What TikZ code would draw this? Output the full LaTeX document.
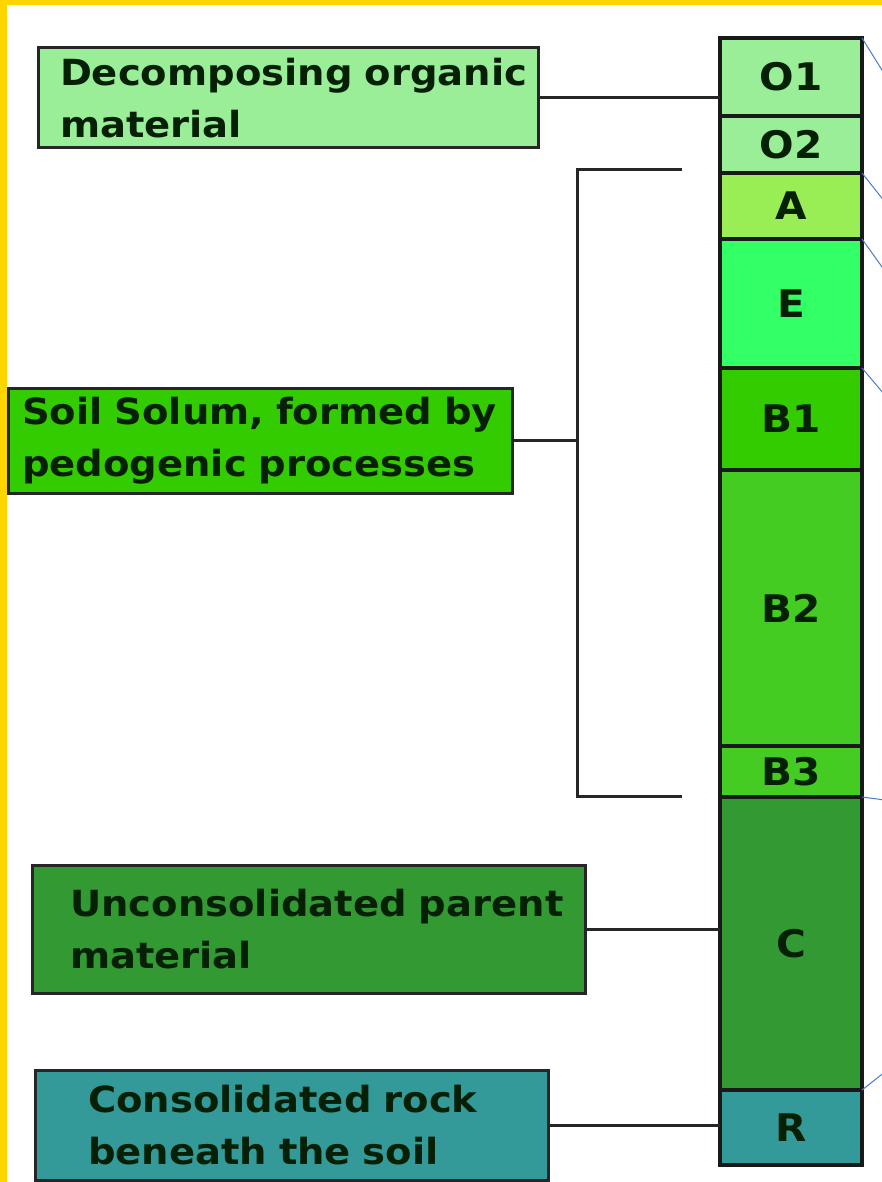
\documentclass[tikz,border=0pt]{standalone}
\usepackage{fontspec}
\setmainfont[FakeStretch=1.07]{DejaVu Sans}
\usetikzlibrary{positioning}
\definecolor{frameyellow}{HTML}{FFD500}
\definecolor{inkgreen}{HTML}{062006}
\definecolor{paleleaf}{HTML}{9AEE98}
\definecolor{limeleaf}{HTML}{99EE55}
\definecolor{springleaf}{HTML}{33FF66}
\definecolor{grassleaf}{HTML}{33CC00}
\definecolor{lightgrass}{HTML}{44CC22}
\definecolor{forestleaf}{HTML}{339933}
\definecolor{tealrock}{HTML}{339999}
\definecolor{linkblue}{HTML}{4A7CC8}
\tikzstyle{layer} = [rectangle, minimum width=142pt, inner sep=0pt, outer sep=0pt, draw=black!90, line width=3.5pt, text=inkgreen, font=\fontsize{38}{44}\selectfont\bfseries]
\tikzstyle{infobox} = [rectangle, anchor=north west, align=left, outer sep=0pt, draw=black!85, line width=3pt, text=inkgreen, font=\fontsize{36}{52}\selectfont\bfseries]
\tikzstyle{link} = [line width=3pt, black!85]
\tikzstyle{guide} = [line width=1pt, linkblue]

\begin{document}
\begin{tikzpicture}[x=1pt, y=-1pt]
\useasboundingbox (0,0) rectangle (882,1182);
\fill[white] (0,0) rectangle (882,1182);
\fill[frameyellow] (0,0) rectangle (882,5);
\fill[frameyellow] (0,0) rectangle (7,1182);

% soil column
\node (O1) [layer, fill=paleleaf, minimum height=78pt, anchor=north west] at (720,38) {O1};
\node (O2) [layer, fill=paleleaf, minimum height=57pt, below=0pt of O1] {O2};
\node (A) [layer, fill=limeleaf, minimum height=66pt, below=0pt of O2] {A};
\node (E) [layer, fill=springleaf, minimum height=129pt, below=0pt of A] {E};
\node (B1) [layer, fill=grassleaf, minimum height=102pt, below=0pt of E] {B1};
\node (B2) [layer, fill=lightgrass, minimum height=276pt, below=0pt of B1] {B2};
\node (B3) [layer, fill=lightgrass, minimum height=51pt, below=0pt of B2] {B3};
\node (C) [layer, fill=forestleaf, minimum height=293pt, below=0pt of B3] {C};
\node (R) [layer, fill=tealrock, minimum height=75pt, below=0pt of C] {R};

% descriptions
\node (organic) [infobox, fill=paleleaf, minimum width=500pt, minimum height=100pt, inner xsep=22pt, text width=456pt] at (38,48) {\mbox{Decomposing organic}\\\mbox{material}};
\node (solum) [infobox, fill=grassleaf, minimum width=504pt, minimum height=105pt, inner xsep=14pt, text width=476pt] at (8,388) {\mbox{Soil Solum, formed by}\\\mbox{pedogenic processes}};
\node (parent) [infobox, fill=forestleaf, minimum width=553pt, minimum height=128pt, inner xsep=38pt, text width=477pt] at (32,865) {\mbox{Unconsolidated parent}\\\mbox{material}};
\node (rock) [infobox, fill=tealrock, minimum width=513pt, minimum height=110pt, inner xsep=53pt, text width=407pt] at (35,1070) {\mbox{Consolidated rock}\\\mbox{beneath the soil}};

\coordinate (solTop) at (682,170);
\coordinate (brkTop) at (577,170);
\coordinate (solBot) at (682,796);

\draw [link] (organic.east) -- (organic.east -| O1.west);
\draw [link] (solTop) -- (brkTop) |- (solBot);
\draw [link] (solum.east) -- (solum.east -| brkTop);
\draw [link] (parent.east) -- (parent.east -| C.west);
\draw [link] (rock.east) -- (rock.east -| R.west);

% lines running off to the right
\coordinate (g1) at (900,99);
\coordinate (g2) at (900,221);
\coordinate (g3) at (900,292);
\coordinate (g4) at (900,413);
\coordinate (g5) at (900,802);
\coordinate (g6) at (900,1060);
\foreach \from/\to in {O1.north east/g1, A.north east/g2, E.north east/g3, B1.north east/g4, C.north east/g5, R.north east/g6}
  \draw [guide] (\from) -- (\to);

\end{tikzpicture}
\end{document}
